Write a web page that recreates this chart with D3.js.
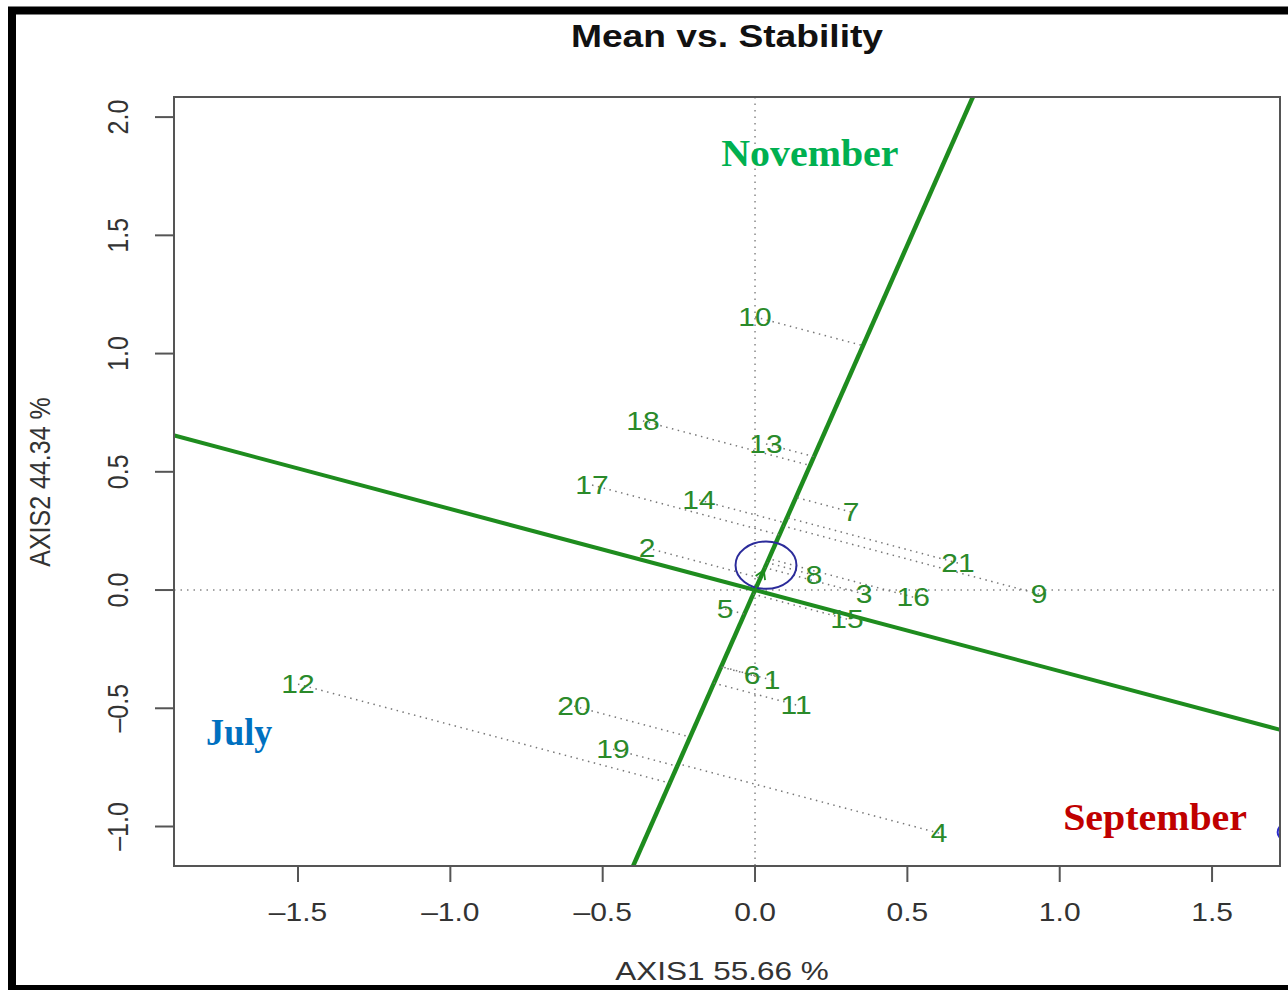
<!DOCTYPE html>
<html>
<head>
<meta charset="utf-8">
<script src="https://cdn.jsdelivr.net/npm/d3@7"></script>
<style>
	body { margin: 0; background: #fff; }
	svg { display: block; }
	text { font-family: 'Liberation Sans', Arial, sans-serif; }
</style>
</head>
<body>
<div id="chart"></div>
<script>
// genotype labels and their biplot scores
const genoLabels = ['1', '2', '3', '4', '5', '6', '7', '8', '9', '10', '11', '12', '13', '14', '15', '16', '17', '18', '19', '20', '21']
const genoX = [0.056, -0.354, 0.358, 0.604, -0.098, -0.010, 0.315, 0.194, 0.932, 0.000, 0.135, -1.500, 0.036, -0.184, 0.302, 0.519, -0.535, -0.368, -0.466, -0.594, 0.666]
const genoY = [-0.381, 0.178, -0.017, -1.028, -0.080, -0.360, 0.330, 0.063, -0.017, 1.155, -0.486, -0.398, 0.618, 0.381, -0.123, -0.030, 0.444, 0.715, -0.673, -0.491, 0.114]

// average environment coordinate (AEA direction)
const avgEnv = [0.036, 0.105]

// environment marker cut off at the right edge
const envMarkX = [1.735]
const envMarkY = [-1.024]

// month annotations
const envNames = ['November', 'July', 'September']
const envX = [0.18, -1.693, 1.313]
const envY = [1.849, -0.601, -0.960]
const envColors = ['#00b050', '#0070c0', '#c00000']

const xTicks = [-1.5, -1.0, -0.5, 0.0, 0.5, 1.0, 1.5]
const yTicks = [-1.0, -0.5, 0.0, 0.5, 1.0, 1.5, 2.0]

const width = 1288
const height = 990
const sx = 1.2 // picture is stretched horizontally
const plot = { left: 174, right: 1280, top: 97, bottom: 866 }

const svg = d3.select('#chart').append('svg')
	.attr('width', width)
	.attr('height', height)

const x = d3.scaleLinear().domain([-1.907, 1.723]).range([plot.left, plot.right])
const y = d3.scaleLinear().domain([-1.167, 2.085]).range([plot.bottom, plot.top])

const fmt = d => (d < 0 ? '\u2013' : '') + d3.format('.1f')(Math.abs(d))

// stretched text helper
function label(parent, px, py, str, opts) {
	const g = parent.append('g')
		.attr('transform', `translate(${px},${py}) scale(${opts.sx || sx},1)` + (opts.rotate ? ` rotate(${opts.rotate})` : ''))
	return g.append('text')
		.attr('text-anchor', opts.anchor || 'middle')
		.attr('dominant-baseline', 'central')
		.style('font-size', opts.size + 'px')
		.style('font-weight', opts.weight || 'normal')
		.style('font-family', opts.family || null)
		.attr('fill', opts.fill || '#222')
		.text(str)
}

svg.append('defs').append('clipPath').attr('id', 'clip')
	.append('rect')
	.attr('x', plot.left).attr('y', plot.top)
	.attr('width', plot.right - plot.left).attr('height', plot.bottom - plot.top)

const inner = svg.append('g').attr('clip-path', 'url(#clip)')

// dotted reference lines at 0
inner.append('line')
	.attr('x1', x(0)).attr('x2', x(0)).attr('y1', plot.top).attr('y2', plot.bottom)
	.attr('stroke', '#888').attr('stroke-width', 1.5).attr('stroke-dasharray', '1.5,5')
inner.append('line')
	.attr('x1', plot.left).attr('x2', plot.right).attr('y1', y(0)).attr('y2', y(0))
	.attr('stroke', '#888').attr('stroke-width', 1.5).attr('stroke-dasharray', '1.5,5')

// AEA abscissa and ordinate through origin
const len = Math.hypot(avgEnv[0], avgEnv[1])
const ux = avgEnv[0] / len, uy = avgEnv[1] / len
const T = 10
inner.append('line')
	.attr('x1', x(-T * ux)).attr('y1', y(-T * uy)).attr('x2', x(T * ux)).attr('y2', y(T * uy))
	.attr('stroke', '#1e8c1e').attr('stroke-width', 4.5)
inner.append('line')
	.attr('x1', x(-T * uy)).attr('y1', y(T * ux)).attr('x2', x(T * uy)).attr('y2', y(-T * ux))
	.attr('stroke', '#1e8c1e').attr('stroke-width', 4)

// projections of genotypes onto AEA
genoLabels.forEach((lab, i) => {
	const t = genoX[i] * ux + genoY[i] * uy
	inner.append('line')
		.attr('x1', x(genoX[i])).attr('y1', y(genoY[i]))
		.attr('x2', x(t * ux)).attr('y2', y(t * uy))
		.attr('stroke', '#777').attr('stroke-width', 1.5).attr('stroke-dasharray', '1.5,4.5')
})

// average environment circle and arrow
inner.append('ellipse')
	.attr('cx', x(avgEnv[0])).attr('cy', y(avgEnv[1]))
	.attr('rx', x(0.1) - x(0)).attr('ry', y(0) - y(0.1))
	.attr('fill', 'none').attr('stroke', '#2b2b9a').attr('stroke-width', 2)
const ax = x(avgEnv[0] * 0.8), ay = y(avgEnv[1] * 0.8)
inner.append('line')
	.attr('x1', x(0)).attr('y1', y(0)).attr('x2', ax).attr('y2', ay)
	.attr('stroke', '#1e8c1e').attr('stroke-width', 1.8)
const ang = Math.atan2(ay - y(0), ax - x(0))
inner.append('path')
	.attr('d', `M${ax + 10 * Math.cos(ang + 2.6)},${ay + 10 * Math.sin(ang + 2.6)} L${ax},${ay} L${ax + 10 * Math.cos(ang - 2.6)},${ay + 10 * Math.sin(ang - 2.6)}`)
	.attr('fill', 'none').attr('stroke', '#1e8c1e').attr('stroke-width', 1.8)

// genotype labels
genoLabels.forEach((lab, i) => {
	label(inner, x(genoX[i]), y(genoY[i]), lab, { size: 25, fill: '#2a8a2a' })
})

// environment marker (only its left part shows inside the frame)
envMarkX.forEach((v, i) => {
	inner.append('ellipse')
		.attr('cx', x(v)).attr('cy', y(envMarkY[i]))
		.attr('rx', 6).attr('ry', 7)
		.attr('fill', 'none').attr('stroke', '#2b2bcc').attr('stroke-width', 2)
})

// month annotations
envNames.forEach((name, i) => {
	label(svg, x(envX[i]), y(envY[i]), name, {
		size: 38, weight: 'bold', sx: i === 1 ? 0.95 : 1.05,
		family: "'Liberation Serif', 'DejaVu Serif', serif", fill: envColors[i]
	})
})

// plot frame
svg.append('rect')
	.attr('x', plot.left).attr('y', plot.top)
	.attr('width', plot.right - plot.left).attr('height', plot.bottom - plot.top)
	.attr('fill', 'none').attr('stroke', '#555').attr('stroke-width', 2)

// x axis
const xAxis = svg.append('g')
xTicks.forEach(t => {
	xAxis.append('line')
		.attr('x1', x(t)).attr('x2', x(t)).attr('y1', plot.bottom).attr('y2', plot.bottom + 16)
		.attr('stroke', '#555').attr('stroke-width', 2)
	label(xAxis, x(t), 912, fmt(t), { size: 25, fill: '#333' })
})

// y axis
const yAxis = svg.append('g')
yTicks.forEach(t => {
	yAxis.append('line')
		.attr('x1', plot.left - 19).attr('x2', plot.left).attr('y1', y(t)).attr('y2', y(t))
		.attr('stroke', '#555').attr('stroke-width', 2)
	label(yAxis, 118, y(t), fmt(t), { size: 25, fill: '#333', rotate: -90 })
})

// titles
label(svg, 727, 36, 'Mean vs. Stability', { size: 31, weight: 'bold', fill: '#111' })
label(svg, 722, 971, 'AXIS1 55.66 %', { size: 25, sx: 1.26, fill: '#333' })
label(svg, 40, 482, 'AXIS2 44.34 %', { size: 25, fill: '#333', rotate: -90 })

// black outer border
svg.append('rect')
	.attr('x', 12).attr('y', 10.5)
	.attr('width', 1300).attr('height', 978.5)
	.attr('fill', 'none').attr('stroke', '#000').attr('stroke-width', 8)
</script>
</body>
</html>
